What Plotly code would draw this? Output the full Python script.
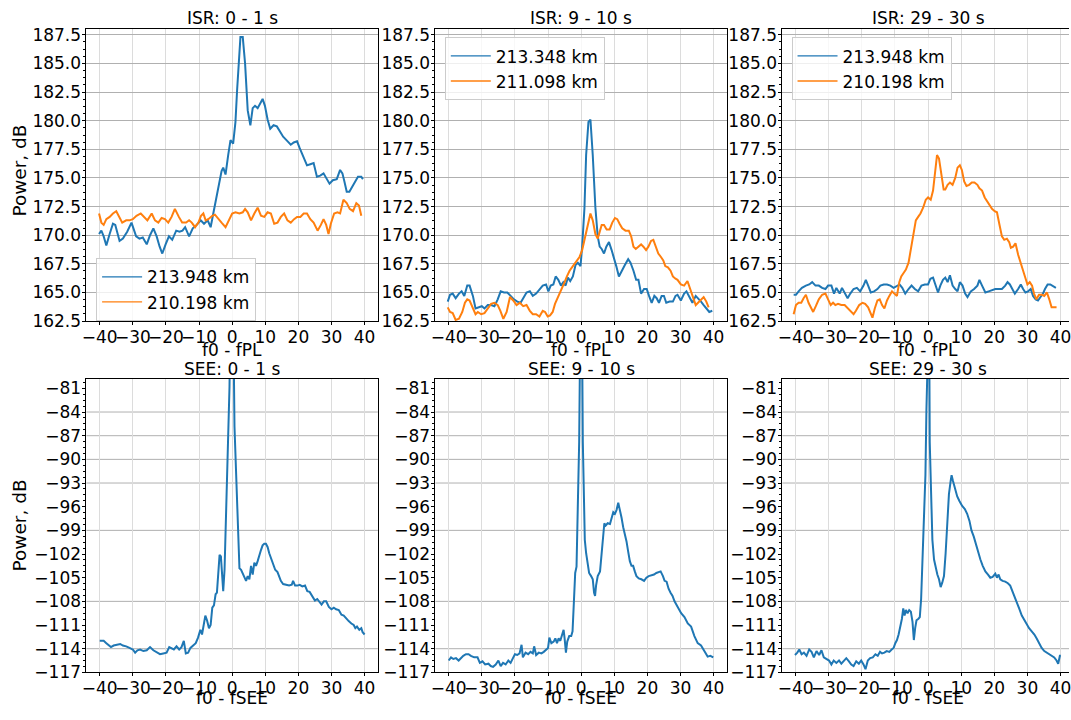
import plotly.graph_objects as go

# ---------------- data ----------------
x_ticks = [-40, -30, -20, -10, 0, 10, 20, 30, 40]
titles_top = ["ISR: 0 - 1 s", "ISR: 9 - 10 s", "ISR: 29 - 30 s"]
titles_bot = ["SEE: 0 - 1 s", "SEE: 9 - 10 s", "SEE: 29 - 30 s"]
legend_names = [("213.948 km", "210.198 km"), ("213.348 km", "211.098 km"), ("213.948 km", "210.198 km")]
bot_grid_vals = [-84, -87, -90, -93, -99, -108, -114]

isr1_blue = [(-40.2,170.1),(-39.5,170.4),(-38.8,169.9),(-38,169.1),(-37,170.1),(-36,171.0),(-35.3,170.9),(-34,169.5),(-33,169.7),(-31.7,170.3),(-30.4,171.1),(-29,169.9),(-28,169.7),(-27,169.8),(-25.8,169.2),(-24.8,170.0),(-23.8,170.6),(-22.8,169.9),(-21.9,169.0),(-21.1,168.4),(-20.1,169.2),(-19.1,169.9),(-18.1,169.6),(-16.9,170.4),(-15.9,170.3),(-15.0,170.4),(-14.2,170.7),(-13,169.9),(-11.9,170.6),(-10.7,170.9),(-9.5,171.3),(-8.5,171.0),(-7.4,171.3),(-6.5,170.7),(-5.7,171.9),(-5.0,173.0),(-4.0,174.4),(-3.2,175.6),(-2.7,175.9),(-2.0,175.3),(-1.2,177.0),(-0.5,178.3),(0.3,178.0),(1.0,179.9),(1.5,182.7),(2.0,185.6),(2.5,187.3),(3.2,187.3),(3.9,185.0),(4.7,180.9),(5.5,179.6),(6.2,181.1),(6.9,181.3),(7.7,181.1),(8.5,181.6),(9.2,181.9),(9.9,181.3),(10.7,180.1),(11.5,179.3),(12.5,179.6),(13.5,179.5),(14.4,179.1),(15.4,178.6),(16.4,178.3),(17.7,177.9),(18.6,178.1),(19.6,178.2),(20.4,177.6),(21.4,176.9),(22.6,176.1),(23.6,176.2),(24.6,176.3),(25.6,175.1),(26.6,175.2),(27.6,175.4),(28.4,175.0),(29.4,174.5),(30.4,174.8),(31.6,174.9),(32.6,175.7),(33.3,175.4),(33.9,174.7),(34.6,173.8),(35.4,173.8),(36.3,174.3),(37.0,174.6),(38.0,175.1),(39.0,175.1),(39.5,174.9)]
isr1_orange = [(-40.2,171.9),(-39.5,171.1),(-38.8,170.9),(-38,171.4),(-37,171.6),(-36,171.9),(-35,172.1),(-34.2,171.6),(-33.2,171.1),(-32,171.3),(-31,171.3),(-30,171.4),(-28.9,171.7),(-27.6,171.9),(-26.6,171.6),(-25.6,171.3),(-24.3,171.9),(-23.3,171.3),(-22.3,171.1),(-21.3,171.5),(-20.3,171.4),(-19.3,171.1),(-18.3,171.6),(-17.3,172.3),(-16.1,171.6),(-15.1,171.1),(-13.9,171.1),(-13,171.3),(-12.2,171.1),(-11.2,170.7),(-10.2,171.1),(-9.4,171.7),(-8.7,171.9),(-8,171.3),(-7.2,171.4),(-6,171.7),(-5.2,171.8),(-4.2,171.4),(-3.2,171.1),(-2,170.7),(-1,171.3),(0,171.9),(1,172.0),(2.2,171.9),(3.2,172.0),(3.9,172.3),(4.7,172.0),(5.7,171.3),(6.7,171.9),(7.7,172.4),(8.7,171.7),(9.7,171.6),(10.7,172.0),(11.7,171.9),(12.7,171.0),(13.7,171.1),(14.7,171.6),(15.7,171.9),(16.7,171.3),(17.7,171.1),(18.7,171.4),(19.6,171.6),(20.6,171.6),(21.6,171.9),(22.6,171.9),(23.6,171.4),(24.6,171.1),(25.8,170.4),(26.8,170.9),(27.6,171.4),(28.4,170.9),(29.1,170.1),(29.8,171.0),(30.8,171.9),(31.8,172.0),(32.6,171.9),(33.6,173.1),(34.6,172.8),(35.5,172.3),(36.5,172.1),(37.5,172.8),(38.3,172.6),(39.0,171.7)]

isr2_blue = [(-40.3,164.2),(-39.6,164.8),(-38.8,164.9),(-37.9,164.5),(-36.9,164.9),(-36.1,165.1),(-35.3,164.7),(-34.4,165.6),(-33.7,165.6),(-32.7,164.7),(-31.9,163.6),(-30.9,163.7),(-30.0,163.8),(-29.2,163.6),(-28.2,163.9),(-27.2,163.9),(-26.2,163.8),(-25.2,164.4),(-24.3,165.1),(-23.3,165.0),(-22.3,165.0),(-21.3,164.7),(-20.3,164.4),(-19.3,164.2),(-18.3,164.1),(-17.5,164.5),(-16.5,165.0),(-15.5,165.1),(-14.6,164.7),(-13.6,164.9),(-12.6,165.3),(-11.6,165.6),(-10.6,165.7),(-9.9,165.1),(-9.2,165.6),(-8.4,165.7),(-7.7,166.4),(-6.9,166.1),(-6.1,165.6),(-5.4,165.9),(-4.7,165.6),(-4.0,166.3),(-3.3,166.0),(-2.5,166.4),(-1.7,167.4),(-1.0,167.6),(-0.2,167.3),(0.3,169.0),(1.0,172.4),(1.5,177.0),(2.2,179.9),(2.8,180.1),(3.5,177.0),(4.3,172.4),(5.0,169.9),(5.6,169.0),(6.2,168.8),(6.9,168.4),(7.6,169.0),(8.4,169.4),(9.2,168.7),(9.9,168.1),(10.6,167.3),(11.4,166.4),(12.2,166.9),(13.2,167.4),(14.2,167.9),(14.9,167.6),(15.8,166.9),(16.6,166.1),(17.3,166.1),(18.1,164.9),(19.0,165.3),(19.8,165.3),(20.5,164.7),(21.3,164.1),(22.1,164.7),(22.8,164.5),(23.5,164.1),(24.3,164.7),(25.0,164.7),(25.7,164.1),(26.7,164.2),(27.7,164.2),(28.5,164.7),(29.1,164.8),(30.1,164.3),(31.1,164.9),(31.8,165.1),(32.6,164.6),(33.6,164.1),(34.6,164.7),(35.3,164.5),(36.2,164.2),(37.0,163.9),(38.0,163.6),(38.7,163.3),(39.6,163.4)]
isr2_orange = [(-40.3,163.7),(-39.6,163.3),(-38.8,163.2),(-37.9,162.6),(-36.9,162.7),(-35.9,163.3),(-35.1,164.1),(-34.4,164.4),(-33.7,164.3),(-32.7,163.7),(-31.9,163.1),(-31.2,163.3),(-30.2,163.1),(-29.2,163.2),(-28.2,163.6),(-27.2,164.0),(-26.2,164.1),(-25.2,163.9),(-24.4,163.4),(-23.5,162.7),(-22.5,163.3),(-21.5,164.6),(-20.5,164.3),(-19.5,163.9),(-18.5,164.1),(-17.5,163.8),(-16.5,163.9),(-15.5,163.4),(-14.6,163.1),(-13.6,163.1),(-12.6,162.9),(-11.6,163.4),(-10.9,163.3),(-10.1,162.9),(-9.4,163.0),(-8.6,163.3),(-7.9,164.0),(-7.1,164.5),(-6.4,164.9),(-5.6,165.4),(-5.0,165.9),(-4.3,166.4),(-3.5,166.9),(-2.5,167.3),(-1.5,167.7),(-0.5,168.1),(0.3,168.7),(1.0,169.6),(1.7,170.6),(2.3,171.4),(2.8,171.9),(3.5,171.3),(4.3,170.1),(5.0,169.7),(5.4,170.1),(6.2,170.9),(6.9,170.9),(7.7,170.5),(8.6,170.5),(9.4,171.1),(10.2,171.5),(10.9,171.4),(11.6,171.0),(12.4,170.6),(13.4,170.4),(14.4,170.4),(15.1,169.9),(15.8,169.0),(16.5,168.8),(17.3,169.0),(18.1,169.2),(18.8,169.0),(19.6,168.7),(20.3,169.0),(21.1,169.5),(21.8,169.6),(22.5,169.0),(23.3,168.4),(24.1,168.1),(24.8,167.8),(25.4,167.3),(26.2,167.2),(27.0,166.9),(27.7,166.4),(28.5,166.2),(29.1,166.1),(30.1,165.7),(31.1,165.6),(32.1,166.0),(32.8,165.4),(33.6,164.7),(34.6,163.9),(35.3,164.1),(36.0,164.3),(37.0,164.6),(37.8,164.2),(38.5,163.7)]

isr3_blue = [(-40.6,164.8),(-39.9,164.8),(-39.1,165.1),(-38.1,165.4),(-36.9,165.6),(-35.9,165.7),(-35,165.9),(-34,165.6),(-33,165.6),(-32,165.4),(-31,165.3),(-30.2,165.6),(-29.2,165.6),(-28.4,164.9),(-27.7,165.4),(-26.7,164.9),(-26,165.4),(-25.2,165.0),(-24.3,164.5),(-23.5,164.9),(-22.5,165.3),(-21.5,165.4),(-20.5,165.1),(-19.5,165.6),(-18.8,166.1),(-18.1,165.6),(-17.3,165.0),(-16.3,165.1),(-15.3,165.3),(-14.4,165.6),(-13.4,165.7),(-12.4,165.7),(-11.4,165.6),(-10.4,165.4),(-9.4,165.6),(-8.6,165.7),(-7.8,165.4),(-6.9,164.9),(-5.9,165.3),(-5,165.6),(-4,165.3),(-3,165.1),(-2,165.6),(-1,165.7),(0,165.7),(0.7,166.2),(1.5,166.3),(2.3,165.7),(3.0,165.0),(3.7,165.6),(4.5,166.1),(5.2,166.3),(5.9,165.9),(6.6,166.5),(7.4,165.6),(8.2,165.3),(8.9,165.1),(9.6,165.9),(10.4,165.6),(11.2,164.9),(11.9,164.6),(12.9,165.1),(13.9,165.3),(14.9,165.6),(15.5,166.1),(16.3,165.6),(17.3,165.0),(18.3,165.1),(19.3,165.2),(20.3,165.3),(21.3,165.3),(22.3,165.3),(23.3,165.6),(24.0,165.9),(24.7,165.7),(25.4,165.3),(26.2,164.9),(27.2,165.3),(28.0,165.7),(28.7,165.3),(29.4,165.0),(30.2,165.1),(31.0,165.3),(31.7,164.7),(32.5,164.4),(33.2,164.3),(34.0,164.6),(34.7,164.9),(35.3,165.3),(36.1,165.7),(36.9,165.7),(37.6,165.6),(38.6,165.4)]
isr3_orange = [(-40.6,163.1),(-39.9,163.9),(-39.1,164.1),(-38.3,164.1),(-37.6,164.5),(-36.9,164.8),(-36.1,164.1),(-35.3,163.6),(-34.7,163.3),(-33.9,163.8),(-33.0,164.4),(-32,164.8),(-31,164.9),(-30.2,164.4),(-29.4,163.9),(-28.7,164.1),(-28,163.9),(-27.2,164.0),(-26.2,163.9),(-25.2,163.9),(-24.3,163.6),(-23.3,163.3),(-22.5,163.1),(-21.8,163.4),(-20.8,163.9),(-19.8,164.1),(-19.0,164.0),(-18.1,163.7),(-17.5,163.3),(-16.8,162.8),(-16.1,163.6),(-15.3,164.3),(-14.6,164.4),(-13.9,163.9),(-13.2,163.6),(-12.4,164.3),(-11.7,164.7),(-10.9,165.1),(-10.2,164.9),(-9.4,164.7),(-8.7,165.9),(-8.1,166.4),(-7.4,166.7),(-6.7,167.0),(-5.9,167.6),(-5.2,168.7),(-4.5,170.1),(-3.7,171.3),(-3.0,171.6),(-2.3,171.9),(-1.5,172.4),(-0.7,173.1),(0,173.3),(0.8,173.1),(1.5,173.9),(2.0,175.0),(2.7,177.0),(3.3,176.7),(4.0,175.3),(4.7,174.0),(5.2,174.0),(5.9,174.4),(6.6,174.6),(7.4,174.4),(8.2,175.0),(8.9,175.9),(9.6,176.1),(10.2,175.7),(10.9,174.7),(11.6,174.3),(12.4,174.4),(13.2,174.6),(14.0,174.6),(14.9,174.4),(15.5,174.1),(16.3,173.9),(17.1,173.3),(17.8,173.0),(18.5,172.7),(19.3,172.3),(20.1,172.1),(20.8,172.0),(21.5,171.0),(22.3,169.9),(23.0,169.6),(23.8,169.7),(24.5,169.4),(25.0,168.9),(25.7,169.0),(26.4,169.3),(27.2,168.3),(28.0,167.6),(28.7,167.0),(29.4,166.3),(30.0,165.7),(30.7,165.9),(31.4,165.6),(32.0,164.9),(32.7,164.4),(33.5,164.8),(34.4,164.8),(35.1,164.7),(35.9,165.0),(36.6,164.4),(37.3,163.7),(38.1,163.7),(38.8,163.7)]

see1 = [(-40,-113.0),(-38.8,-113.0),(-38,-113.3),(-37.3,-113.6),(-36.6,-113.8),(-35.8,-113.6),(-34.8,-113.5),(-33.8,-113.4),(-33,-113.6),(-32,-113.7),(-31,-113.9),(-30,-114.1),(-29.3,-114.5),(-28.6,-114.2),(-27.8,-114.1),(-26.8,-114.3),(-25.8,-114.2),(-24.8,-113.8),(-23.8,-114.2),(-22.8,-114.4),(-21.8,-114.7),(-20.8,-114.6),(-19.8,-114.5),(-19,-113.8),(-18.3,-113.9),(-17.6,-114.1),(-16.8,-113.7),(-16,-114.1),(-15.3,-113.8),(-14.6,-113.0),(-14,-114.6),(-13.3,-114.5),(-12.6,-113.9),(-11.8,-113.6),(-11,-113.3),(-10.3,-112.6),(-9.6,-111.6),(-9.1,-112.2),(-8.6,-111.2),(-8.1,-109.8),(-7.6,-110.4),(-7.0,-111.4),(-6.5,-111.0),(-6,-108.8),(-5.5,-108.5),(-5,-107.1),(-4.6,-106.9),(-4.2,-104.4),(-3.8,-102.1),(-3.4,-102.3),(-3.0,-104.4),(-2.7,-106.7),(-2.3,-104.0),(-1.8,-96.1),(-1.3,-87.8),(-0.8,-80.8),(-0.5,-70.0),(0.3,-70.0),(0.7,-85.8),(1.2,-92.0),(1.7,-99.4),(2.2,-103.8),(2.7,-104.0),(3.2,-104.4),(3.7,-104.8),(4.2,-105.4),(4.7,-104.8),(5.2,-105.2),(5.7,-103.5),(6.2,-104.6),(6.7,-103.1),(7.2,-103.5),(7.7,-102.9),(8.2,-102.1),(8.7,-101.5),(9.2,-100.9),(9.7,-100.7),(10.2,-100.7),(10.7,-101.1),(11.2,-101.9),(11.7,-102.5),(12.2,-103.3),(13,-104.0),(13.7,-104.3),(14.2,-104.9),(14.7,-105.4),(15.4,-105.8),(16.2,-105.9),(17.2,-106.0),(18,-105.9),(18.4,-105.4),(19,-106.0),(19.7,-106.0),(20.4,-105.9),(21.2,-106.1),(22,-106.0),(22.7,-106.7),(23.4,-106.8),(24.2,-107.4),(25,-107.9),(25.7,-107.7),(26.4,-108.1),(27,-108.4),(27.7,-108.0),(28.4,-108.0),(29.2,-108.7),(30,-109.0),(30.7,-108.8),(31.4,-109.0),(32.2,-109.1),(33,-109.7),(33.7,-109.8),(34.4,-110.2),(35.2,-110.5),(36,-110.8),(36.7,-111.0),(37.2,-111.4),(37.7,-111.2),(38.4,-111.6),(39,-111.4),(39.4,-111.9),(40,-112.2)]
see2 = [(-40,-115.5),(-39.3,-115.1),(-38.6,-115.3),(-37.8,-115.2),(-37.0,-115.5),(-36.3,-115.2),(-35.6,-114.9),(-34.8,-114.7),(-34.0,-114.7),(-33.3,-114.9),(-32.3,-115.1),(-31.3,-115.1),(-30.6,-115.8),(-29.8,-115.6),(-29,-116.0),(-28,-115.9),(-27.3,-116.2),(-26.6,-116.3),(-25.8,-116.0),(-25,-115.5),(-24.3,-116.2),(-23.6,-115.8),(-22.8,-116.0),(-22,-115.5),(-21.3,-115.8),(-20.6,-115.2),(-20,-114.7),(-19.3,-114.8),(-18.6,-114.6),(-18,-113.5),(-17.6,-115.1),(-16.8,-114.5),(-16,-114.7),(-15.3,-114.4),(-14.6,-114.6),(-14.2,-113.7),(-13.6,-114.8),(-12.8,-114.5),(-12,-114.6),(-11.3,-114.4),(-10.6,-114.1),(-10,-113.9),(-9.6,-112.6),(-9,-113.3),(-8.3,-113.1),(-7.8,-112.7),(-7.3,-113.3),(-6.8,-112.7),(-6.3,-113.0),(-5.8,-112.2),(-5.3,-111.6),(-5,-112.7),(-4.6,-114.5),(-4.2,-113.1),(-3.6,-112.4),(-3,-112.4),(-2.6,-111.8),(-2.2,-108.1),(-1.8,-104.4),(-1.4,-103.6),(-1.0,-96.1),(-0.6,-87.8),(-0.2,-70.0),(0.2,-70.0),(0.5,-87.8),(0.8,-96.1),(1.1,-100.2),(1.5,-101.9),(2.0,-103.1),(2.4,-104.4),(3.0,-104.8),(3.5,-105.2),(3.9,-106.9),(4.2,-107.3),(4.5,-106.0),(5.0,-104.8),(5.7,-104.2),(6.2,-101.9),(6.6,-99.0),(7.0,-98.1),(7.4,-98.4),(8.0,-98.1),(8.7,-98.2),(9.2,-97.3),(9.7,-96.7),(10.2,-96.9),(10.7,-96.4),(11.2,-95.5),(11.7,-96.3),(12.2,-97.4),(12.7,-98.6),(13.2,-99.4),(13.7,-100.4),(14.2,-101.7),(14.7,-102.9),(15.2,-103.5),(15.7,-103.5),(16.2,-104.2),(16.7,-104.8),(17.4,-105.1),(18.2,-105.2),(19,-105.4),(19.7,-105.0),(20.4,-104.8),(21.2,-104.7),(22,-104.6),(22.7,-104.4),(23.4,-104.3),(24,-104.2),(24.7,-104.8),(25.2,-105.4),(25.8,-105.5),(26.4,-106.4),(27,-106.9),(27.6,-107.3),(28.2,-108.0),(28.8,-108.5),(29.4,-109.0),(30.2,-109.5),(31.2,-110.0),(32.2,-110.8),(33.2,-111.2),(34.2,-112.4),(35.2,-113.3),(36.2,-113.6),(37.2,-114.3),(38.2,-115.0),(39.0,-114.9),(39.9,-115.1)]
see3 = [(-40.2,-114.8),(-39.5,-114.5),(-38.9,-114.1),(-38.2,-114.7),(-37.5,-114.5),(-36.7,-114.9),(-35.9,-114.1),(-35.2,-114.4),(-34.5,-115.1),(-33.7,-114.3),(-32.9,-114.8),(-32.2,-114.2),(-31.5,-115.1),(-30.7,-115.3),(-29.9,-115.5),(-29.2,-116.0),(-28.5,-115.5),(-27.7,-115.8),(-26.9,-115.5),(-26.2,-115.9),(-25.5,-115.5),(-24.7,-115.2),(-23.9,-115.6),(-23.2,-116.0),(-22.5,-116.2),(-21.7,-115.6),(-20.9,-115.9),(-20.2,-115.5),(-19.5,-116.0),(-18.9,-116.6),(-18.2,-115.5),(-17.5,-115.2),(-16.7,-115.1),(-15.9,-114.7),(-15.2,-114.9),(-14.5,-114.4),(-13.9,-114.6),(-13.2,-114.5),(-12.5,-114.3),(-11.7,-114.4),(-11.0,-114.1),(-10.4,-113.9),(-9.9,-113.3),(-9.4,-112.9),(-8.9,-112.2),(-8.4,-111.2),(-7.9,-110.2),(-7.5,-108.9),(-7.1,-109.8),(-6.7,-109.1),(-6.2,-109.5),(-5.7,-109.1),(-5.2,-109.3),(-4.7,-110.6),(-4.3,-112.9),(-3.9,-111.4),(-3.5,-110.4),(-2.9,-110.2),(-2.5,-110.0),(-2.1,-107.7),(-1.7,-103.5),(-1.2,-98.2),(-0.8,-92.0),(-0.5,-83.7),(-0.2,-70.0),(0.3,-70.0),(0.5,-87.8),(0.9,-96.1),(1.3,-100.2),(1.8,-102.7),(2.3,-103.8),(2.8,-104.6),(3.3,-105.2),(3.8,-106.2),(4.3,-105.6),(4.8,-104.8),(5.3,-101.9),(5.8,-97.8),(6.3,-94.4),(6.8,-92.8),(7.1,-92.0),(7.5,-92.7),(8.1,-93.6),(8.8,-94.7),(9.5,-95.3),(10.3,-95.9),(11.1,-96.3),(11.8,-96.9),(12.5,-97.8),(13.1,-99.0),(13.8,-99.8),(14.5,-100.9),(15.1,-101.5),(15.8,-102.7),(16.5,-103.5),(17.3,-104.2),(18.1,-104.6),(18.8,-105.0),(19.5,-104.9),(20.3,-104.5),(20.8,-105.0),(21.3,-104.6),(21.8,-105.2),(22.5,-105.4),(23.3,-105.5),(24.1,-105.7),(24.8,-106.0),(25.5,-106.7),(26.1,-107.3),(26.8,-108.1),(27.5,-108.9),(28.3,-109.8),(29.1,-110.4),(29.8,-111.0),(30.5,-111.4),(31.3,-111.8),(32.1,-112.2),(32.8,-112.7),(33.5,-113.3),(34.3,-113.9),(35.1,-114.3),(35.8,-114.5),(36.5,-114.6),(37.3,-114.9),(38.1,-115.1),(38.8,-115.5),(39.3,-115.9),(39.8,-114.9),(40.1,-114.9)]

isr_series = [(isr1_blue, isr1_orange), (isr2_blue, isr2_orange), (isr3_blue, isr3_orange)]
see_series = [see1, see2, see3]

# ---------------- styling / layout ----------------
BLUE, ORANGE = "#1f77b4", "#ff7f0e"
W, H = 1071, 720
FONT = "DejaVu Sans"
FS = 17         # tick labels / titles / x labels
FS_Y = 18.5     # y labels
FS_LEG = 17     # legend text
PPU = 3.333     # pixels per x unit

col_px = [(82.0, 375.3), (433.3, 726.6), (782.5, 1071.0)]
x_ranges = [[-44, 44], [-44, 44], [-44, -44 + (1071 - 782.5) / PPU]]
row_px = [(25.0, 323.5), (382.0, 681.7)]
y_ranges = [[162.49, 188.05], [-117.01, -79.76]]

fig = go.Figure()
layout = dict(width=W, height=H, margin=dict(l=0, r=0, t=0, b=0),
              paper_bgcolor="white", plot_bgcolor="white",
              font=dict(family=FONT, size=FS, color="black"),
              showlegend=True, shapes=[], annotations=[])

def unzip(pairs):
    return [p[0] for p in pairs], [p[1] for p in pairs]

def txt(text, xpx, ypx, size=FS, angle=0):
    return dict(text=text, x=xpx / W, y=1 - ypx / H, xref="paper", yref="paper",
                xanchor="center", yanchor="middle", showarrow=False, textangle=angle,
                font=dict(family=FONT, size=size, color="black"))

tickfont = dict(family=FONT, size=FS, color="black")

for i in range(6):
    r, c = divmod(i, 3)
    n = i + 1
    xa = "x" if n == 1 else f"x{n}"
    ya = "y" if n == 1 else f"y{n}"
    xkey = "xaxis" if n == 1 else f"xaxis{n}"
    ykey = "yaxis" if n == 1 else f"yaxis{n}"
    c0, c1 = col_px[c]
    t, b = row_px[r]
    layout[xkey] = dict(domain=[c0 / W, c1 / W], range=x_ranges[c], anchor=ya,
                        tickmode="array", tickvals=x_ticks, tickangle=0,
                        ticks="outside", ticklen=3, tickwidth=1, tickcolor="black",
                        ticklabelstandoff=-3, ticklabeloverflow="allow",
                        showline=True, linecolor="black", linewidth=1, mirror=True,
                        showgrid=True, gridcolor="#dcdcdc", gridwidth=1, zeroline=False,
                        tickfont=tickfont)
    if r == 0:
        ydict = dict(tickmode="linear", tick0=162.5, dtick=2.5, tickformat=".1f",
                     showgrid=True, gridcolor="#b0b0b0", gridwidth=1,
                     minor=dict(tick0=162.5, dtick=0.625, ticks="outside", ticklen=2,
                                tickcolor="black", showgrid=False))
    else:
        ydict = dict(tickmode="linear", tick0=-117, dtick=3, showgrid=False,
                     minor=dict(tick0=-117, dtick=0.75, ticks="outside", ticklen=2,
                                tickcolor="black", showgrid=False))
    ydict.update(domain=[1 - b / H, 1 - t / H], range=y_ranges[r], anchor=xa,
                 ticks="outside", ticklen=3, tickwidth=1, tickcolor="black",
                 ticklabelstandoff=-2,
                 showline=True, linecolor="black", linewidth=1, mirror=(c < 2),
                 zeroline=False, tickfont=tickfont)
    layout[ykey] = ydict

    xc = (c0 + c0 + 88 * PPU) / 2
    if r == 0:
        blue, orange = isr_series[c]
        lg = "legend" if c == 0 else f"legend{c + 1}"
        for pairs, col in ((blue, BLUE), (orange, ORANGE)):
            xs, ys = unzip(pairs)
            fig.add_trace(go.Scatter(x=xs, y=ys, mode="lines", line=dict(color=col, width=2),
                                     xaxis=xa, yaxis=ya, showlegend=False, hoverinfo="skip"))
        for name, col in zip(legend_names[c], (BLUE, ORANGE)):
            fig.add_trace(go.Scatter(x=[None], y=[None], mode="lines", name=name,
                                     line=dict(color=col, width=1.3), xaxis=xa, yaxis=ya,
                                     legend=lg, showlegend=True))
        layout["annotations"].append(txt(titles_top[c], xc, 14))
        layout["annotations"].append(txt("f0 - fPL", xc, 353))
    else:
        xs, ys = unzip(see_series[c])
        fig.add_trace(go.Scatter(x=xs, y=ys, mode="lines", line=dict(color=BLUE, width=2),
                                 xaxis=xa, yaxis=ya, showlegend=False, hoverinfo="skip"))
        for v in bot_grid_vals:
            layout["shapes"].append(dict(type="line", xref=f"{xa} domain", yref=ya, x0=0, x1=1,
                                         y0=v, y1=v, line=dict(color="#b0b0b0", width=1), layer="below"))
        layout["annotations"].append(txt(titles_bot[c], xc, 372))
        layout["annotations"].append(txt("f0 - fSEE", xc, 708))

for ypx in (170, 532):
    layout["annotations"].append(txt("Power, dB", 15, ypx, size=FS_Y, angle=-90))

leg_common = dict(xanchor="left", yanchor="top", xref="paper", yref="paper",
                  bgcolor="rgba(255,255,255,0.8)", bordercolor="#cccccc", borderwidth=1,
                  font=dict(family=FONT, size=FS_LEG, color="black"), itemwidth=40)
layout["legend"] = dict(x=91.7 / W, y=1 - 259.3 / H, **leg_common)
layout["legend2"] = dict(x=442.7 / W, y=1 - 34 / H, **leg_common)
layout["legend3"] = dict(x=791.7 / W, y=1 - 34 / H, **leg_common)

fig.update_layout(**layout)
fig.write_html("out.html", config={"displayModeBar": False},
               post_script="document.body.style.margin='0';")
